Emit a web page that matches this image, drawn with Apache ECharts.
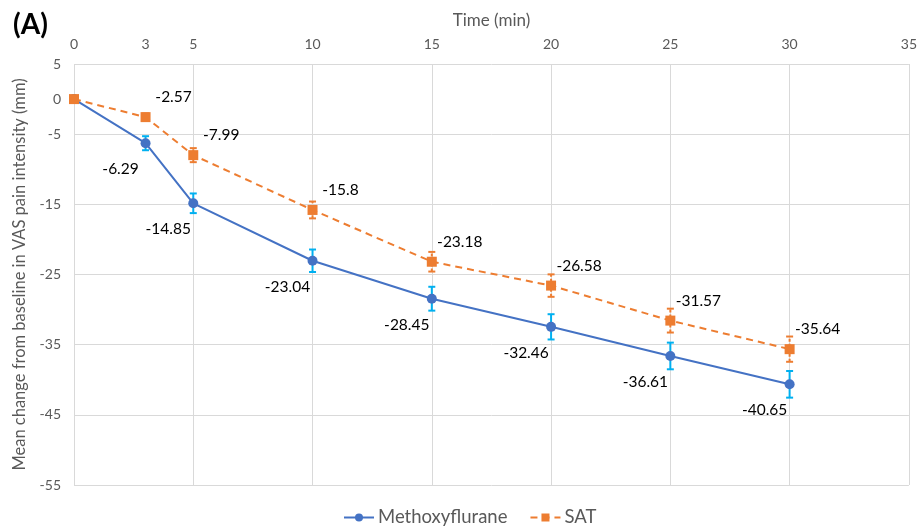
<!DOCTYPE html>
<html>
<head>
<meta charset="utf-8">
<script src="https://cdn.jsdelivr.net/npm/echarts@6/dist/echarts.min.js"></script>
<style>html,body{margin:0;padding:0;background:#fff}#c{width:920px;height:527px}</style>
</head>
<body>
<div id="c"></div>
<script>
const times = [0, 3, 5, 10, 15, 20, 25, 30];
const methoxyMean = [0, -6.29, -14.85, -23.04, -28.45, -32.46, -36.61, -40.65];
const methoxyErr = [0, 1.0, 1.4, 1.6, 1.7, 1.8, 1.9, 1.9];
const satMean = [0, -2.57, -7.99, -15.8, -23.18, -26.58, -31.57, -35.64];
const satErr = [0, 0.5, 1.0, 1.2, 1.4, 1.6, 1.7, 1.8];
const xTickLabels = [0, 3, 5, 10, 15, 20, 25, 30, 35];
const yTickLabels = [5, 0, -5, -15, -25, -35, -45, -55];

const FONT = 'Lato';
const GREY = '#595959';
const chart = echarts.init(document.getElementById('c'));

function pts(mean) { return times.map((t, i) => [t, mean[i]]); }
function errData(mean, err) { return times.map((t, i) => [t, mean[i] - err[i], mean[i] + err[i]]); }
function errSeries(name, mean, err, color, dashed) {
  return {
    type: 'custom',
    name: name,
    z: 1,
    silent: true,
    itemStyle: { color: color },
    data: errData(mean, err),
    renderItem: function (params, api) {
      const x = api.value(0);
      const lo = api.coord([x, api.value(1)]);
      const hi = api.coord([x, api.value(2)]);
      const w = 3.5;
      const style = { stroke: color, lineWidth: 2, lineDash: dashed ? [3, 2] : null, fill: null };
      return {
        type: 'group',
        children: [
          { type: 'line', shape: { x1: lo[0], y1: lo[1], x2: hi[0], y2: hi[1] }, style: style },
          { type: 'line', shape: { x1: lo[0] - w, y1: lo[1], x2: lo[0] + w, y2: lo[1] }, style: { stroke: color, lineWidth: 2 } },
          { type: 'line', shape: { x1: hi[0] - w, y1: hi[1], x2: hi[0] + w, y2: hi[1] }, style: { stroke: color, lineWidth: 2 } }
        ]
      };
    }
  };
}
function labelFmt(p) { return p.dataIndex === 0 ? '' : String(p.value[1]); }

chart.setOption({
  animation: false,
  textStyle: { fontFamily: FONT },
  title: {
    text: '(A)', left: 8, top: 6,
    textStyle: { fontFamily: FONT, fontWeight: 'bold', fontSize: 28, color: '#000' }
  },
  grid: { left: 74, right: 9, top: 64, bottom: 42 },
  legend: {
    bottom: 0, left: 343, padding: 0, itemWidth: 30, itemHeight: 10, itemGap: 22,
    data: ['Methoxyflurane', 'SAT'],
    textStyle: { fontFamily: FONT, fontSize: 18.5, color: GREY, padding: [0, 0, 0, -1] }
  },
  xAxis: {
    type: 'value', position: 'top', min: 0, max: 35, interval: 5,
    name: 'Time (min)', nameLocation: 'middle', nameGap: 35,
    nameTextStyle: { fontFamily: FONT, fontSize: 17, color: GREY },
    axisLine: { show: false, onZero: false },
    axisTick: { show: false },
    axisLabel: { customValues: xTickLabels, color: GREY, fontSize: 14, fontFamily: FONT, margin: 13 },
    splitLine: { show: true, lineStyle: { color: '#D9D9D9', width: 1 } }
  },
  yAxis: {
    type: 'value', min: -55, max: 5, interval: 10,
    name: 'Mean change from baseline in VAS pain intensity (mm)', nameLocation: 'middle', nameGap: 39,
    nameTextStyle: { fontFamily: FONT, fontSize: 16.5, color: GREY },
    axisLine: { show: false },
    axisTick: { show: false },
    axisLabel: { customValues: yTickLabels, color: GREY, fontSize: 14, fontFamily: FONT, margin: 13 },
    splitLine: { show: true, lineStyle: { color: '#D9D9D9', width: 1 } }
  },
  series: [
    errSeries('Methoxyflurane error', methoxyMean, methoxyErr, '#00B0F0', false),
    errSeries('SAT error', satMean, satErr, '#ED7D31', true),
    {
      name: 'Methoxyflurane', type: 'line', z: 3, data: pts(methoxyMean),
      symbol: 'circle', symbolSize: 10,
      itemStyle: { color: '#4472C4' },
      lineStyle: { color: '#4472C4', width: 2 },
      label: { show: true, position: 'inside', offset: [-25, 26], formatter: labelFmt, color: '#000', fontSize: 15.5, fontFamily: FONT }
    },
    {
      name: 'SAT', type: 'line', z: 3, data: pts(satMean),
      symbol: 'rect', symbolSize: 10,
      itemStyle: { color: '#ED7D31' },
      lineStyle: { color: '#ED7D31', width: 2, type: [7, 5] },
      label: { show: true, position: 'inside', offset: [28, -20], formatter: labelFmt, color: '#000', fontSize: 15.5, fontFamily: FONT }
    }
  ]
});
</script>
</body>
</html>
